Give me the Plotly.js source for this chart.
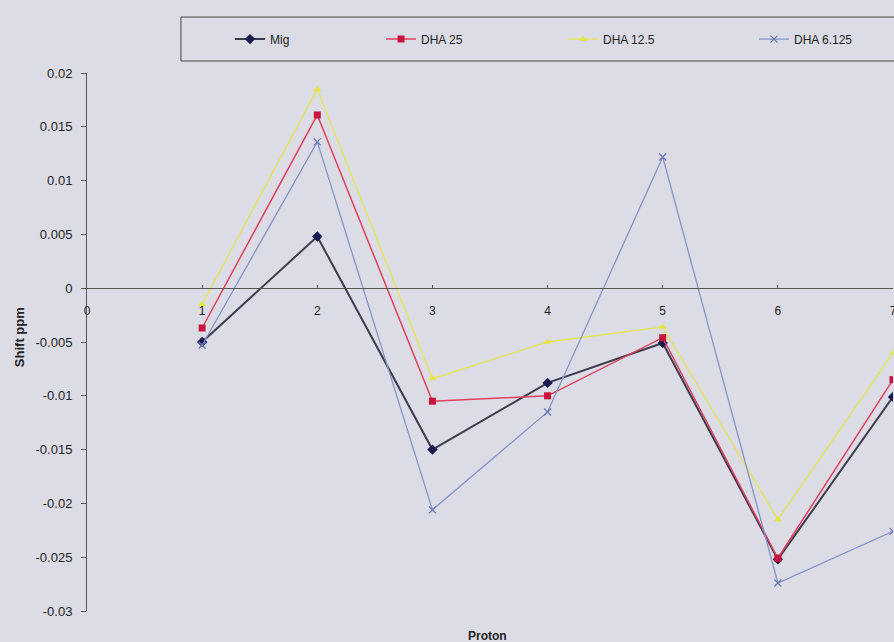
<!DOCTYPE html>
<html>
<head>
<meta charset="utf-8">
<script src="https://cdn.plot.ly/plotly-3.0.1.min.js"></script>
<style>
html,body{margin:0;padding:0;background:#dcdce6;}
#chart{width:894px;height:642px;}
</style>
</head>
<body>
<div id="chart"></div>
<script>
// Data
const protons = [1, 2, 3, 4, 5, 6, 7];
const mig      = [-0.0050,  0.0048, -0.0150, -0.0088, -0.0051, -0.0252, -0.0101];
const dha25    = [-0.0037,  0.0161, -0.0105, -0.0100, -0.0046, -0.0251, -0.0085];
const dha12_5  = [-0.0015,  0.0185, -0.0084, -0.0050, -0.0036, -0.0215, -0.0060];
const dha6_125 = [-0.0053,  0.0136, -0.0206, -0.0115,  0.0122, -0.0274, -0.0226];

const seriesNames = ['Mig', 'DHA 25', 'DHA 12.5', 'DHA 6.125'];
const xTickVals = [0, 1, 2, 3, 4, 5, 6, 7];
const xTickText = ['0', '1', '2', '3', '4', '5', '6', '7'];
const yTickVals = [0.02, 0.015, 0.01, 0.005, 0, -0.005, -0.01, -0.015, -0.02, -0.025, -0.03];
const yTickText = ['0.02', '0.015', '0.01', '0.005', '0', '-0.005', '-0.01', '-0.015', '-0.02', '-0.025', '-0.03'];

const FONT = 'Liberation Sans, Arial, sans-serif';
const NARROW = 'Liberation Sans Narrow, Liberation Sans, Arial, sans-serif';

const traces = [
  {x: protons, y: mig, name: seriesNames[0], mode: 'lines+markers', legend: 'legend',
   line: {color: '#3c3c4c', width: 2},
   marker: {symbol: 'diamond', size: 8, color: '#1a1a50'}},
  {x: protons, y: dha25, name: seriesNames[1], mode: 'lines+markers', legend: 'legend2',
   line: {color: '#e0405c', width: 1.5},
   marker: {symbol: 'square', size: 7, color: '#c8143c'}},
  {x: protons, y: dha12_5, name: seriesNames[2], mode: 'lines+markers', legend: 'legend3',
   line: {color: '#e6e650', width: 1.3},
   marker: {symbol: 'triangle-up', size: 7, color: '#e6e640'}},
  {x: protons, y: dha6_125, name: seriesNames[3], mode: 'lines+markers', legend: 'legend4',
   line: {color: '#8494c8', width: 1.3},
   marker: {symbol: 'x-thin', size: 7, line: {color: '#6878b8', width: 1.3}, color: '#6878b8'}}
];

function legendAt(x) {
  return {
    orientation: 'h', x: x, xanchor: 'left', y: 1.063, yanchor: 'middle',
    bgcolor: 'rgba(0,0,0,0)', borderwidth: 0,
    font: {family: NARROW, size: 12, color: '#222'}
  };
}

const layout = {
  width: 894, height: 642,
  paper_bgcolor: '#dcdce6', plot_bgcolor: '#dcdce6',
  margin: {l: 87, r: 1, t: 73, b: 31},
  font: {family: FONT, size: 12, color: '#222'},
  showlegend: true,
  legend: legendAt(0.1774),
  legend2: legendAt(0.3648),
  legend3: legendAt(0.5906),
  legend4: legendAt(0.8275),
  xaxis: {
    range: [0, 7], anchor: 'free', position: 0.6,
    showgrid: false, zeroline: false,
    showline: true, linecolor: '#555', linewidth: 1,
    ticks: 'inside', ticklen: 3, tickcolor: '#555',
    tickvals: xTickVals, ticktext: xTickText,
    ticklabelstandoff: 11, ticklabeloverflow: 'allow',
    tickfont: {family: FONT, size: 12, color: '#222'}
  },
  yaxis: {
    range: [-0.03, 0.02],
    showgrid: false, zeroline: false,
    showline: true, linecolor: '#555', linewidth: 1,
    ticks: 'outside', ticklen: 5, tickcolor: '#555',
    tickvals: yTickVals, ticktext: yTickText,
    ticklabelstandoff: 6,
    tickfont: {family: FONT, size: 13, color: '#222'}
  },
  shapes: [
    {type: 'rect', xref: 'paper', yref: 'paper',
     x0: 0.1166, x1: 1.003, y0: 1.0223, y1: 1.104,
     line: {color: '#444', width: 1}, fillcolor: 'rgba(0,0,0,0)'}
  ],
  annotations: [
    {text: '<b>Proton</b>', xref: 'paper', yref: 'paper', x: 0.497, y: -0.0465,
     xanchor: 'center', yanchor: 'middle', showarrow: false,
     font: {family: FONT, size: 12, color: '#222'}},
    {text: '<b>Shift ppm</b>', xref: 'paper', yref: 'paper', x: -0.0844, y: 0.509,
     xanchor: 'center', yanchor: 'middle', textangle: -90, showarrow: false,
     font: {family: FONT, size: 13, color: '#222'}}
  ]
};

Plotly.newPlot('chart', traces, layout, {staticPlot: true, displayModeBar: false});
</script>
</body>
</html>
